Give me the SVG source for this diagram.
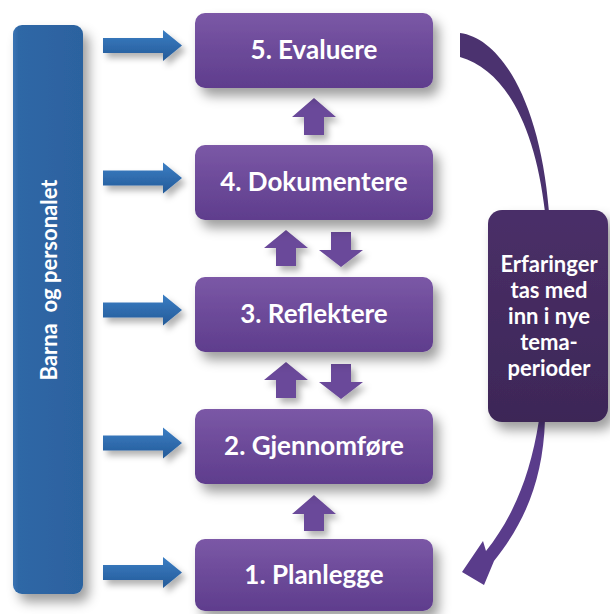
<svg xmlns="http://www.w3.org/2000/svg" width="610" height="614" viewBox="0 0 610 614">
<defs>
  <linearGradient id="gBox" x1="0" y1="0" x2="0" y2="1">
    <stop offset="0" stop-color="#7b58a6"/>
    <stop offset="0.5" stop-color="#6c4a99"/>
    <stop offset="1" stop-color="#5f3d8d"/>
  </linearGradient>
  <linearGradient id="gBar" x1="0" y1="0" x2="1" y2="0">
    <stop offset="0" stop-color="#3a74b4"/>
    <stop offset="0.08" stop-color="#2f67a6"/>
    <stop offset="1" stop-color="#2c629f"/>
  </linearGradient>
  <linearGradient id="gBlueArrow" x1="0" y1="0" x2="0" y2="1">
    <stop offset="0" stop-color="#3b7ec4"/>
    <stop offset="1" stop-color="#245a98"/>
  </linearGradient>
  <linearGradient id="gSide" x1="0" y1="0" x2="0" y2="1">
    <stop offset="0" stop-color="#4a2f68"/>
    <stop offset="1" stop-color="#3d2757"/>
  </linearGradient>
  <filter id="sh" x="-20%" y="-20%" width="150%" height="160%">
    <feDropShadow dx="6" dy="8" stdDeviation="6" flood-color="#000" flood-opacity="0.38"/>
  </filter>
  <filter id="shs" x="-30%" y="-30%" width="180%" height="180%">
    <feDropShadow dx="4" dy="5" stdDeviation="3" flood-color="#000" flood-opacity="0.3"/>
  </filter>
</defs>
<style>
  .box { fill: url(#gBox); filter: url(#sh); }
  .lbl { font-family: Lato, "Open Sans", "Liberation Sans", sans-serif; font-weight: bold; fill: #ffffff; text-anchor: middle; }
  .big { font-size: 26px; }
  .side { font-size: 22px; }
  .barTxt { font-size: 22px; white-space: pre; }
  .blueArrow { fill: url(#gBlueArrow); filter: url(#shs); }
  .purpleArrow { fill: #6b4a9a; filter: url(#shs); }
  .curve { fill: #4b326f; }
  .curve2 { fill: #5a3c8b; }
</style>

<g id="bar">
  <rect x="13" y="25" width="70" height="569" rx="9" fill="url(#gBar)" filter="url(#sh)"/>
  <text class="lbl barTxt" xml:space="preserve" transform="translate(57,280) rotate(-90)">Barna  og personalet</text>
</g>

<g id="connectors">
  <!-- blue arrows from bar to steps -->
  <path class="blueArrow" d="M103,38 H163 V30 L182,45.5 L163,61 V53 H103 Z"/>
  <path class="blueArrow" d="M103,170.5 H163 V162.5 L182,178 L163,193.5 V185.5 H103 Z"/>
  <path class="blueArrow" d="M103,302.5 H163 V294.5 L182,310 L163,325.5 V317.5 H103 Z"/>
  <path class="blueArrow" d="M103,435.5 H163 V427.5 L182,443 L163,458.5 V450.5 H103 Z"/>
  <path class="blueArrow" d="M103,565 H163 V557 L182,572.5 L163,588 V580 H103 Z"/>

  <!-- purple up arrow 4 -> 5 -->
  <path class="purpleArrow" d="M314,98 L336,117 H324 V135 H304 V117 H292 Z"/>
  <!-- pair between 4 and 3 -->
  <path class="purpleArrow" d="M286,230 L308,248 H296 V266 H276 V248 H264 Z"/>
  <path class="purpleArrow" d="M331,232 H351 V250 H363 L341,267 L319,250 H331 Z"/>
  <!-- pair between 3 and 2 -->
  <path class="purpleArrow" d="M286,362 L308,380 H296 V398 H276 V380 H264 Z"/>
  <path class="purpleArrow" d="M331,364 H351 V382 H363 L341,399 L319,382 H331 Z"/>
  <!-- up arrow 1 -> 2 -->
  <path class="purpleArrow" d="M314,495 L336,514 H324 V531 H304 V514 H292 Z"/>

  <!-- curved arrow from 5 to side box -->
  <path class="curve" d="M460,33 C500,38 540,100 549,212 L545,212 C535,125 505,70 460,57 Z"/>
  <!-- curved arrow from side box to 1 -->
  <path class="curve2" d="M545,420 C543,480 525,522 494,561 L484,585 L462,572 L483,541 L486,551 C512,518 530,478 539,420 Z"/>
</g>

<g id="step5">
  <rect class="box" x="195" y="13" width="238" height="75" rx="10"/>
  <text class="lbl big" x="314" y="59">5. Evaluere</text>
</g>
<g id="step4">
  <rect class="box" x="195" y="145" width="238" height="75" rx="10"/>
  <text class="lbl big" x="314" y="191">4. Dokumentere</text>
</g>
<g id="step3">
  <rect class="box" x="195" y="277" width="238" height="75" rx="10"/>
  <text class="lbl big" x="314" y="323">3. Reflektere</text>
</g>
<g id="step2">
  <rect class="box" x="195" y="409" width="238" height="75" rx="10"/>
  <text class="lbl big" x="314" y="455">2. Gjennomføre</text>
</g>
<g id="step1">
  <rect class="box" x="195" y="539" width="238" height="72" rx="10"/>
  <text class="lbl big" x="314" y="584">1. Planlegge</text>
</g>

<g id="experience">
  <rect x="488" y="210" width="120" height="212" rx="14" fill="url(#gSide)" filter="url(#sh)"/>
  <text class="lbl side" x="549" y="272">Erfaringer</text>
  <text class="lbl side" x="549" y="298">tas med</text>
  <text class="lbl side" x="549" y="324">inn i nye</text>
  <text class="lbl side" x="549" y="350">tema-</text>
  <text class="lbl side" x="549" y="376">perioder</text>
</g>
</svg>
